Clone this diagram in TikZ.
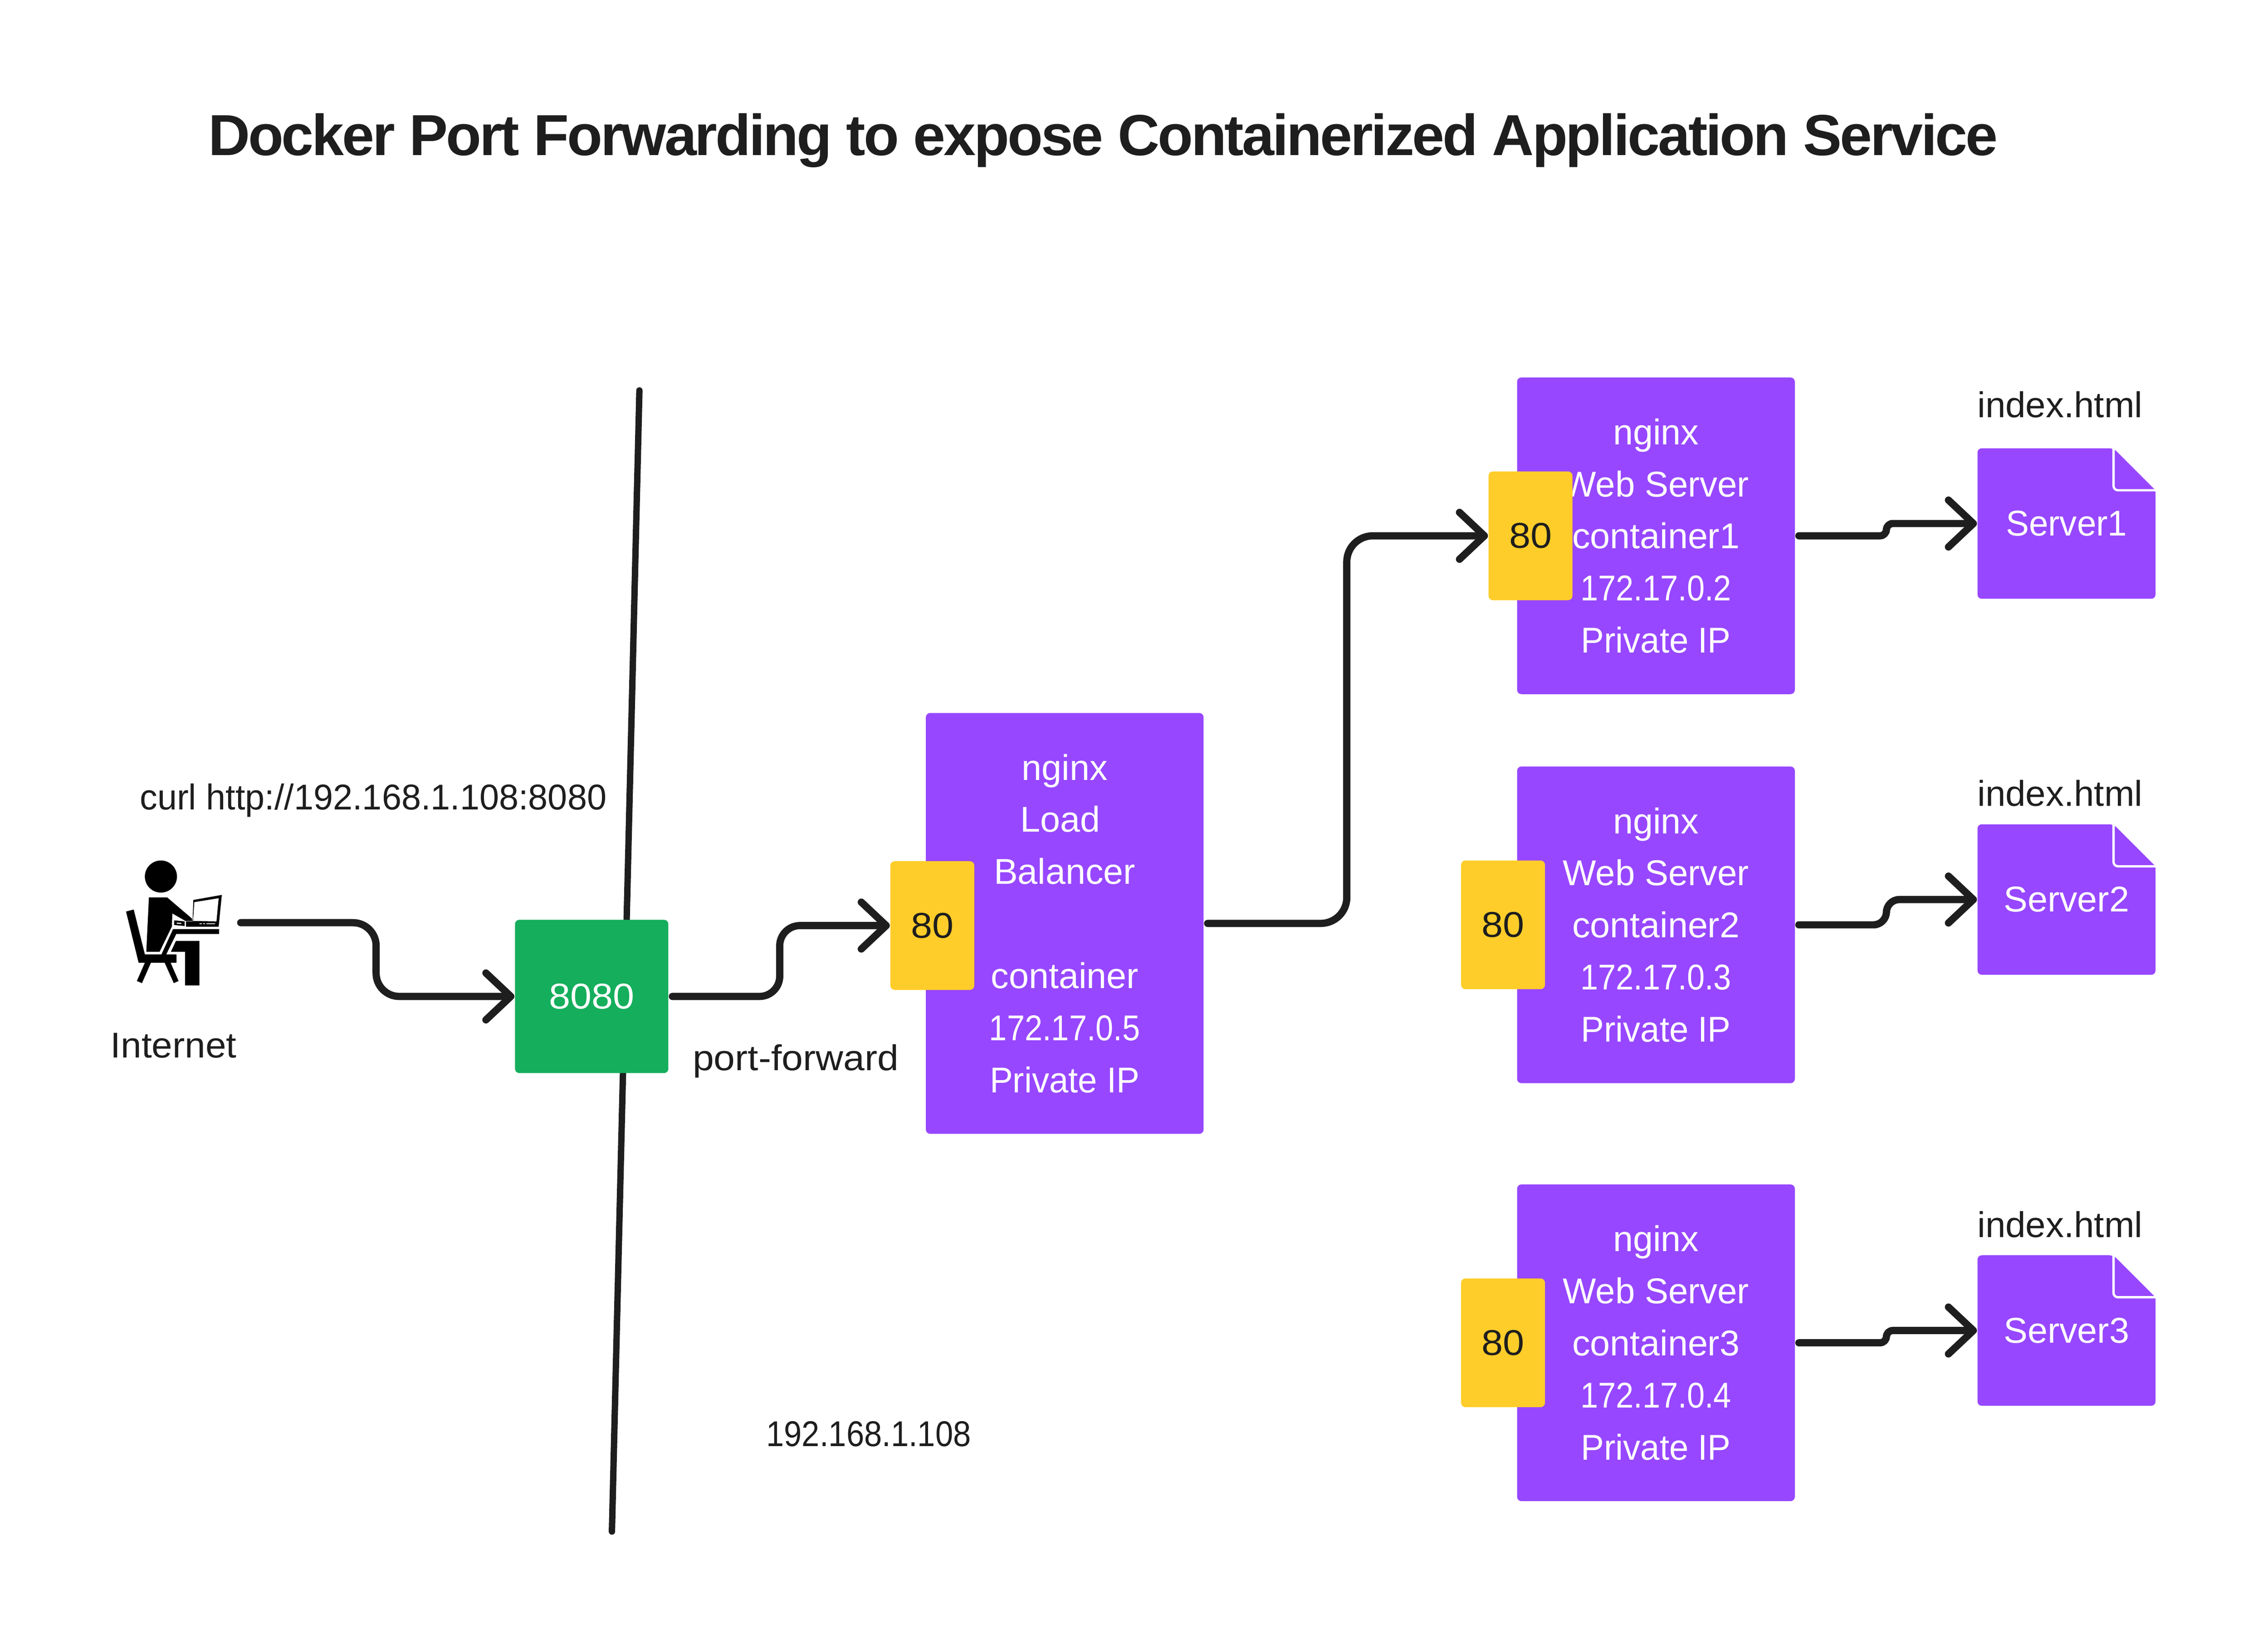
\documentclass[tikz,border=0pt]{standalone}
\usepackage{graphicx}
\usepackage{fontspec}
\setmainfont{Liberation Sans}
\newfontfamily\titlefont[LetterSpace=-3.2]{Liberation Sans}
\usetikzlibrary{arrows.meta}
\definecolor{ink}{HTML}{1E1E1E}
\definecolor{plum}{HTML}{9747FF}
\definecolor{leaf}{HTML}{14AE5C}
\definecolor{sun}{HTML}{FFCD29}
\newcommand{\sx}[2]{\scalebox{#1}[1]{#2}}
\tikzset{
  x=0.5pt,y=-0.5pt,
  txt/.style={font=\fontsize{12.4}{18}\selectfont,text=ink,inner sep=0pt},
  lbl/.style={txt,anchor=base},
  card/.style={fill=plum,rounded corners=1.5pt,inner sep=0pt,align=center,font=\fontsize{12.4}{18}\selectfont,text=white,minimum width=96pt},
  webcard/.style={card,minimum height=109.5pt},
  port/.style={fill=sun,rounded corners=1.5pt,inner sep=0pt,font=\fontsize{12.4}{18}\selectfont,text=ink,minimum width=29pt,minimum height=44.5pt},
  filebox/.style={inner sep=0pt,minimum width=61.5pt,minimum height=52pt,font=\fontsize{12.4}{18}\selectfont,text=white},
  wire/.style={draw=ink,line width=2.5pt,line cap=round,line join=round,shorten <=1.2pt,-{Straight Barb[length=8.6pt,width=16.2pt,round]}},
  wall/.style={draw=ink,line width=2.2pt,line cap=round},
  iconfill/.style={fill=black,draw=none},
  iconhole/.style={fill=white,draw=none},
}
\newcommand{\filecard}[4]{% name, x-left, y-top, text
  \fill[plum] [rounded corners=1.4pt] (#2,#3) -- (#2+94,#3) [sharp corners] -- (#2+123,#3+29) [rounded corners=1.4pt] -- (#2+123,#3+104) -- (#2,#3+104) -- cycle;
  \draw[white,line width=0.8pt,rounded corners=1.5pt] (#2+94,#3) -- (#2+94,#3+29) -- (#2+123,#3+29);
  \node[filebox] (#1) at (#2+61.5,#3+52) {#4};
}
\begin{document}
\begin{tikzpicture}
\useasboundingbox[fill=white] (0,0) rectangle (1567.8,1138.6);

\node[font=\titlefont\bfseries\fontsize{20}{24}\selectfont,text=ink,inner sep=0pt] (title) at (762.5,97) {Docker Port Forwarding to expose Containerized Application Service};

% wall
\coordinate (walltop) at (442,270);
\coordinate (wallbot) at (423,1059);
\draw[wall] (walltop) -- (wallbot);

% person icon
\begin{scope}[shift={(69.13,583.1)},x=0.05pt,y=-0.05pt]
  \fill[iconfill] (421,230) circle[radius=5.55pt];
  \fill[iconfill] (338,375) -- (465,375) -- (635,520) -- (640,538) -- (592,538) -- (500,485) -- (497,575) -- (412,750) -- (320,750) -- cycle;
  \fill[iconfill] (512,533) -- (585,540) -- (585,572) -- (512,565) -- cycle;
  \fill[iconhole] (530,548) -- (562,551) -- (562,558) -- (530,556) -- cycle;
  \fill[iconfill] (645,392) -- (842,357) -- (820,577) -- (595,577) -- (595,540) -- (640,540) -- cycle;
  \fill[iconhole] (652,407) -- (820,380) -- (805,540) -- (643,537) -- cycle;
  \fill[iconhole] (688,552) rectangle (705,560);
  \fill[iconhole] (712,552) rectangle (727,560);
  \fill[iconhole] (735,552) rectangle (795,560);
  \fill[iconfill] (180,472) -- (233,458) -- (310,768) -- (425,768) -- (505,593) -- (823,593) -- (823,627) -- (527,627) -- (458,768) -- (529,768) -- (529,826) -- (267,826) -- cycle;
  \fill[iconfill] (310,826) -- (352,826) -- (290,967) -- (255,952) -- cycle;
  \fill[iconfill] (447,826) -- (488,826) -- (543,952) -- (510,967) -- cycle;
  \fill[iconfill] (525,675) -- (687,675) -- (687,983) -- (588,983) -- (588,750) -- (490,750) -- cycle;
\end{scope}

% labels
\node[lbl] (curl) at (258,560) {\sx{.979}{curl http://192.168.1.108:8080}};
\node[lbl] (inet) at (120,731.5) {\sx{1.036}{Internet}};
\node[lbl] (pf) at (550,740) {\sx{1.065}{port-forward}};
\node[lbl] (ip) at (600.5,1000) {\sx{.892}{192.168.1.108}};
\node[lbl,anchor=base west] (idx1) at (1366.5,288.5) {\sx{1.01}{index.html}};
\node[lbl,anchor=base west] (idx2) at (1366.5,557.5) {\sx{1.01}{index.html}};
\node[lbl,anchor=base west] (idx3) at (1366.5,855.5) {\sx{1.01}{index.html}};

% nodes
\node[fill=leaf,rounded corners=1.5pt,inner sep=0pt,minimum size=53pt,font=\fontsize{12.4}{18}\selectfont,text=white] (ext) at (409,689) {\sx{1.07}{8080}};

\node[card,minimum height=145.5pt] (lb) at (736,638.5) {nginx\\\mbox{Load\hspace{3pt}}\\Balancer\\\mbox{}\\container\\\sx{.89}{172.17.0.5}\\\sx{.963}{Private IP}};
\node[port] (plb) at (644.5,640) {\sx{1.07}{80}};

\node[webcard] (c1) at (1144.7,370.5) {nginx\\\sx{.985}{Web Server}\\container1\\\sx{.89}{172.17.0.2}\\\sx{.963}{Private IP}};
\node[port] (p1) at (1058,370.5) {\sx{1.07}{80}};
\node[webcard] (c2) at (1144.7,639.5) {nginx\\\sx{.985}{Web Server}\\container2\\\sx{.89}{172.17.0.3}\\\sx{.963}{Private IP}};
\node[port] (p2) at (1039,639.5) {\sx{1.07}{80}};
\node[webcard] (c3) at (1144.7,928.5) {nginx\\\sx{.985}{Web Server}\\container3\\\sx{.89}{172.17.0.4}\\\sx{.963}{Private IP}};
\node[port] (p3) at (1039,928.5) {\sx{1.07}{80}};

\filecard{f1}{1367}{310}{\sx{.965}{Server1}}
\filecard{f2}{1367}{570}{Server2}
\filecard{f3}{1367}{868}{Server3}

% connectors
\coordinate (src) at (164,638);
\draw[wire,rounded corners=8pt] (src) -- (260,638) -- (260,689) -- (ext.west);
\draw[wire,rounded corners=7pt] (ext.east) -- (539,689) -- (539,640) -- (plb.west);
\draw[wire,rounded corners=9pt] (lb.east) -- (931,638.5) -- (931,370.5) -- (p1.west);
\draw[wire,rounded corners=2.2pt] (c1.east) -- (1304,370.5) -- (1304,362) -- (f1.west);
\draw[wire,rounded corners=4.5pt] (c2.east) -- (1304,639.5) -- (1304,622) -- (f2.west);
\draw[wire,rounded corners=2.2pt] (c3.east) -- (1304,928.5) -- (1304,920) -- (f3.west);
\end{tikzpicture}
\end{document}
